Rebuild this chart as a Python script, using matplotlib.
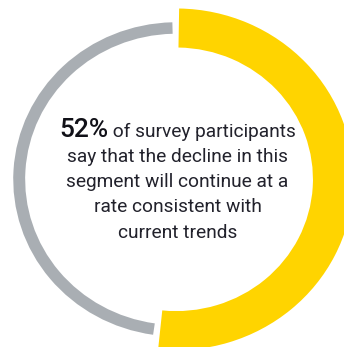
import matplotlib.pyplot as plt
from matplotlib.patches import Wedge
from matplotlib.transforms import offset_copy

# chart data ------------------------------------------------------------------
segments = ["continue at current trend", "other views"]
shares = [52, 48]
colors = ["#FFD400", "#A9AEB3"]
ring_widths = [0.258, 0.076]

headline = "52%"
first_line = " of survey participants"
other_lines = [
    "say that the decline in this",
    "segment will continue at a",
    "rate consistent with",
    "current trends",
]

TEXT_COLOR = "#22222C"
FONT = "Roboto"

# figure ----------------------------------------------------------------------
fig = plt.figure(figsize=(3.44, 3.47), dpi=100)
ax = fig.add_axes([0, 0, 1, 1])
# ring centre line is the unit circle, slightly wider than tall in the picture
ax.set_xlim(-1.1223, 1.0688)
ax.set_ylim(-1.1084, 1.1851)
ax.set_aspect("auto")
ax.axis("off")

start_angle = 90.2
gap = 2.3
total = sum(shares)
theta = start_angle
for share, color, width in zip(shares, colors, ring_widths):
    span = 360.0 * share / total
    ax.add_patch(
        Wedge(
            (0, 0),
            1 + width / 2,
            theta - span + gap / 2,
            theta - gap / 2,
            width=width,
            facecolor=color,
            edgecolor="none",
        )
    )
    theta -= span


def px_to_y(py):
    return (179.3 - py) / 151.3


text_x = 0.008
baseline0 = 136.5
line_step = 25.3

renderer = fig.canvas.get_renderer()
t_head = ax.text(text_x, px_to_y(baseline0), headline, fontsize=19, fontweight="medium",
                 family=FONT, color="#111118", ha="left", va="baseline")
t_rest = ax.text(text_x, px_to_y(baseline0), first_line, fontsize=13.8,
                 family=FONT, color=TEXT_COLOR, ha="left", va="baseline")
w_head = t_head.get_window_extent(renderer).width
w_rest = t_rest.get_window_extent(renderer).width
half = (w_head + w_rest) / 2
t_head.set_transform(offset_copy(ax.transData, fig, x=-half, units="dots"))
t_rest.set_transform(offset_copy(ax.transData, fig, x=-half + w_head, units="dots"))

for i, line in enumerate(other_lines):
    ax.text(text_x, px_to_y(baseline0 + line_step * (i + 1)), line, fontsize=13.8,
            family=FONT, color=TEXT_COLOR, ha="center", va="baseline")

fig.savefig("out.png", dpi=100, facecolor="white")
